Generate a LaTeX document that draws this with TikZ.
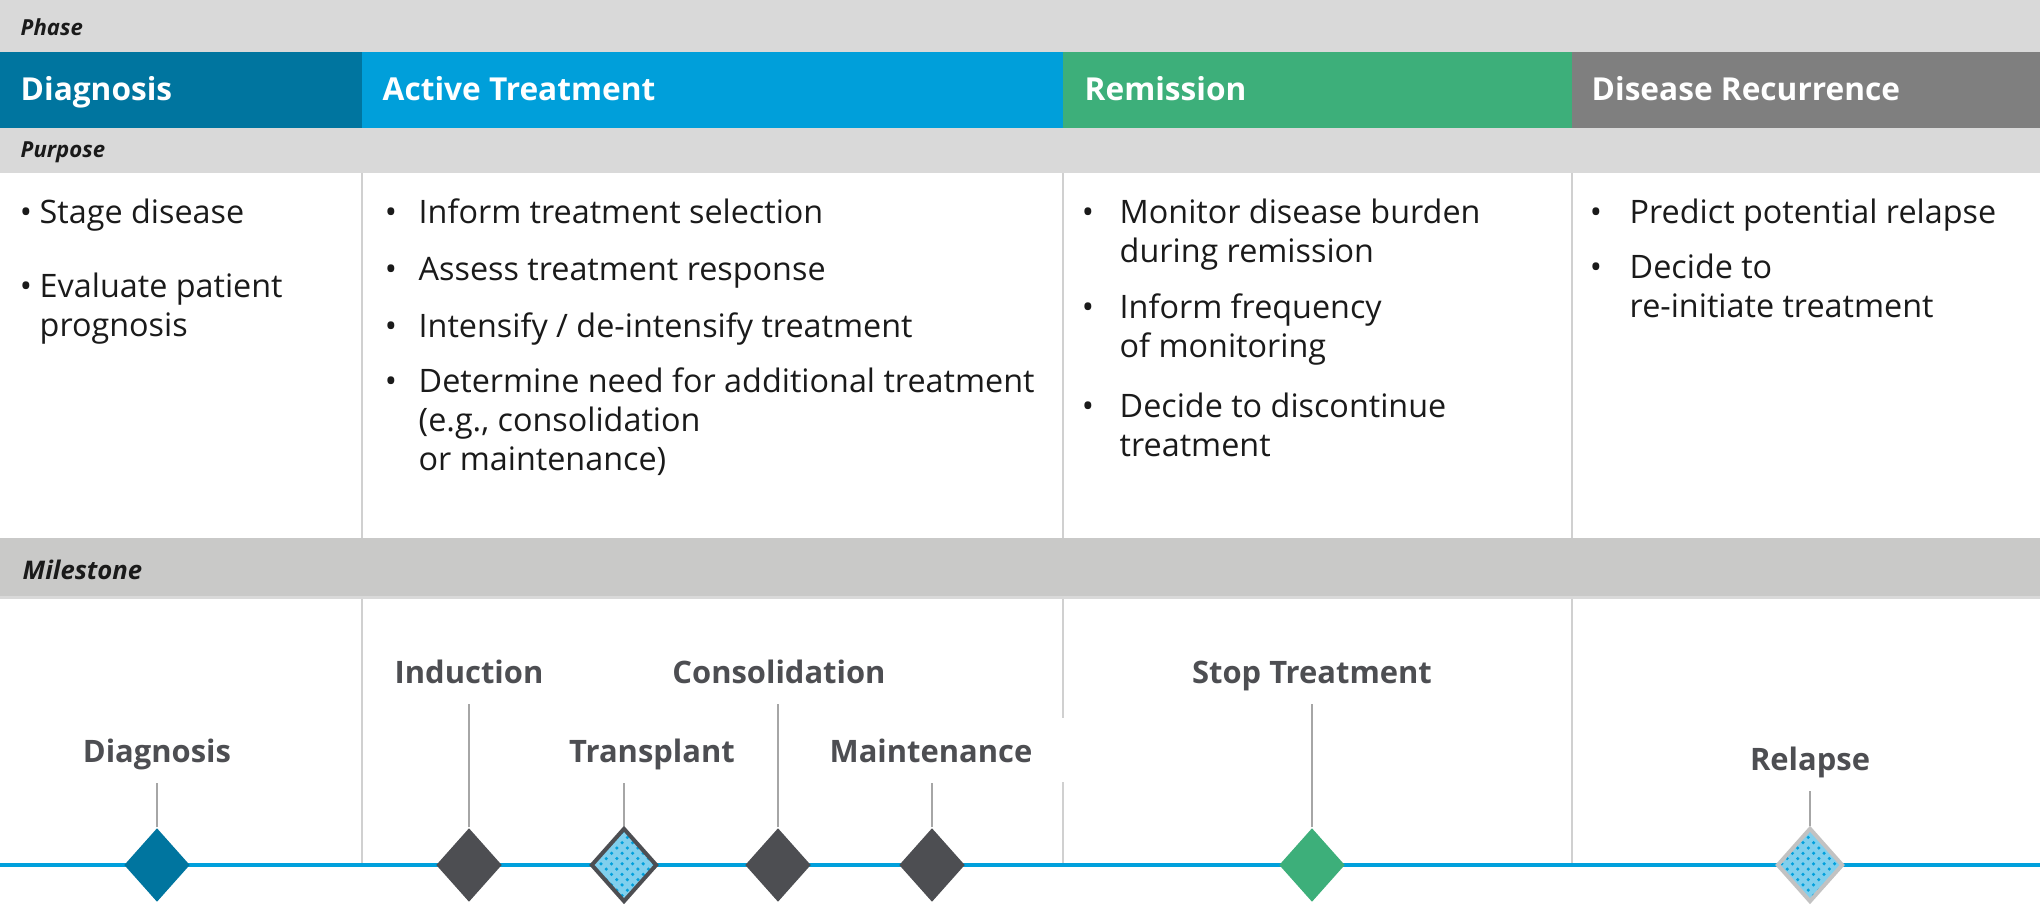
\documentclass[tikz,border=0pt]{standalone}
\usepackage{fontspec}
\setmainfont{Open Sans}
\usetikzlibrary{shapes.geometric,patterns}

\definecolor{bandgray}{HTML}{D9D9D9}
\definecolor{msband}{HTML}{C9C9C8}
\definecolor{dxblue}{HTML}{00759F}
\definecolor{txblue}{HTML}{009FDA}
\definecolor{remgreen}{HTML}{3DAF7A}
\definecolor{recgray}{HTML}{7F7F7F}
\definecolor{sepgray}{HTML}{D0D0D0}
\definecolor{leadgray}{HTML}{A6A6A6}
\definecolor{linkblue}{HTML}{00A0DC}
\definecolor{darkms}{HTML}{4D4E52}
\definecolor{rimgray}{HTML}{C2C2C2}
\definecolor{inkblack}{HTML}{1A1A1A}

\newcommand{\toplines}[1]{\begin{tabular}[t]{@{}l@{}}#1\end{tabular}}

\tikzset{
    tag/.style={anchor=west, inner sep=0pt, text=inkblack, font=\bfseries\itshape\fontsize{6.3}{7.5}\selectfont},
    phasename/.style={anchor=base west, inner sep=0pt, text=white, font=\bfseries\fontsize{9}{11}\selectfont},
    bul/.style={anchor=base, inner sep=0pt, text=inkblack, font=\fontsize{9.2}{11.1}\selectfont},
    itm/.style={anchor=base west, inner sep=0pt, text=inkblack, font=\fontsize{9.2}{11.1}\selectfont},
    mslabel/.style={anchor=base, inner sep=0pt, text depth=0.2cm, text=darkms, font=\bfseries\fontsize{8.8}{10}\selectfont},
    cover/.style={fill=white, inner xsep=0.36cm, text height=0.44cm},
    ms/.style={diamond, inner sep=0pt, minimum width=0.66cm, minimum height=0.74cm},
    msdark/.style={ms, fill=darkms},
    mshatch/.style={ms, preaction={fill=linkblue!50!white}, pattern=crosshatch dots, pattern color=linkblue, line width=0.04cm},
    lead/.style={draw=leadgray, line width=0.02cm},
    sep/.style={draw=sepgray, line width=0.02cm}
}

\begin{document}
\begin{tikzpicture}
    \fill[white] (0,0) rectangle (20.40,-9.06);
    \useasboundingbox (0,0) rectangle (20.40,-9.06);
    \fill[bandgray] (0,0) rectangle (20.40,-0.52);
    \fill[dxblue] (0,-0.52) rectangle (3.62,-1.28);
    \fill[txblue] (3.62,-0.52) rectangle (10.63,-1.28);
    \fill[remgreen] (10.63,-0.52) rectangle (15.72,-1.28);
    \fill[recgray] (15.72,-0.52) rectangle (20.40,-1.28);
    \fill[bandgray] (0,-1.28) rectangle (20.40,-1.73);
    \fill[msband] (0,-5.38) rectangle (20.40,-5.96);
    \fill[bandgray] (0,-5.96) rectangle (20.40,-5.99);

    \node[tag] (phasetag) at (0.20,-0.27) {Phase};
    \node[tag] (purposetag) at (0.20,-1.52) {Purpose};
    \node[tag, font=\bfseries\itshape\fontsize{7.3}{8.5}\selectfont] (mstag) at (0.22,-5.70) {Milestone};

    \node[phasename] (dxhead) at (0.20,-1.00) {Diagnosis};
    \node[phasename] (txhead) at (3.82,-1.00) {Active Treatment};
    \node[phasename] (remhead) at (10.84,-1.00) {Remission};
    \node[phasename] (rechead) at (15.91,-1.00) {Disease Recurrence};

    \draw[sep] (3.62,-1.73) -- (3.62,-5.38);
    \draw[sep] (10.63,-1.73) -- (10.63,-5.38);
    \draw[sep] (15.72,-1.73) -- (15.72,-5.38);
    \draw[sep] (3.62,-5.99) -- (3.62,-8.67);
    \draw[sep] (10.63,-5.99) -- (10.63,-8.67);
    \draw[sep] (15.72,-5.99) -- (15.72,-8.67);

    \node[bul] (dxb1) at (0.26,-2.23) {\textbullet};
    \node[itm] (dx1) at (0.39,-2.23) {Stage disease};
    \node[bul] (dxb2) at (0.26,-2.97) {\textbullet};
    \node[itm] (dx2) at (0.39,-2.97) {\toplines{Evaluate patient\\prognosis}};

    \node[bul] (txb1) at (3.91,-2.23) {\textbullet};
    \node[itm] (tx1) at (4.18,-2.23) {Inform treatment selection};
    \node[bul] (txb2) at (3.91,-2.80) {\textbullet};
    \node[itm] (tx2) at (4.18,-2.80) {Assess treatment response};
    \node[bul] (txb3) at (3.91,-3.37) {\textbullet};
    \node[itm] (tx3) at (4.18,-3.37) {Intensify / de-intensify treatment};
    \node[bul] (txb4) at (3.91,-3.92) {\textbullet};
    \node[itm] (tx4) at (4.18,-3.92) {\toplines{Determine need for additional treatment\\(e.g., consolidation\\or maintenance)}};

    \node[bul] (remb1) at (10.88,-2.23) {\textbullet};
    \node[itm] (rem1) at (11.19,-2.23) {\toplines{Monitor disease burden\\during remission}};
    \node[bul] (remb2) at (10.88,-3.18) {\textbullet};
    \node[itm] (rem2) at (11.19,-3.18) {\toplines{Inform frequency\\of monitoring}};
    \node[bul] (remb3) at (10.88,-4.17) {\textbullet};
    \node[itm] (rem3) at (11.19,-4.17) {\toplines{Decide to discontinue\\treatment}};

    \node[bul] (recb1) at (15.96,-2.23) {\textbullet};
    \node[itm] (rec1) at (16.29,-2.23) {Predict potential relapse};
    \node[bul] (recb2) at (15.96,-2.78) {\textbullet};
    \node[itm] (rec2) at (16.29,-2.78) {\toplines{Decide to\\re-initiate treatment}};

    \coordinate (tl0) at (0,-8.65);
    \coordinate (tl1) at (20.40,-8.65);
    \draw[linkblue, line width=0.04cm] (tl0) -- (tl1);

    \node[ms, fill=dxblue] (dgm) at (1.57,-8.65) {};
    \node[msdark] (indm) at (4.69,-8.65) {};
    \node[mshatch, draw=darkms] (tpm) at (6.24,-8.65) {};
    \node[msdark] (conm) at (7.78,-8.65) {};
    \node[msdark] (mntm) at (9.32,-8.65) {};
    \node[ms, fill=remgreen] (stpm) at (13.12,-8.65) {};
    \node[mshatch, draw=rimgray] (relm) at (18.10,-8.65) {};

    \node[mslabel] (dgl) at (1.57,-7.62) {Diagnosis};
    \node[mslabel] (indl) at (4.69,-6.83) {Induction};
    \node[mslabel] (tpl) at (6.52,-7.62) {Transplant};
    \node[mslabel] (conl) at (7.79,-6.83) {Consolidation};
    \node[mslabel, cover] (mntl) at (9.31,-7.62) {Maintenance};
    \node[mslabel] (stpl) at (13.12,-6.83) {Stop Treatment};
    \node[mslabel] (rell) at (18.10,-7.70) {Relapse};

    \draw[lead] (dgm.north) -- (dgm.north |- dgl.south);
    \draw[lead] (indm.north) -- (indm.north |- indl.south);
    \draw[lead] (tpm.north) -- (tpm.north |- tpl.south);
    \draw[lead] (conm.north) -- (conm.north |- conl.south);
    \draw[lead] (mntm.north) -- (mntm.north |- mntl.south);
    \draw[lead] (stpm.north) -- (stpm.north |- stpl.south);
    \draw[lead] (relm.north) -- (relm.north |- rell.south);
\end{tikzpicture}
\end{document}
